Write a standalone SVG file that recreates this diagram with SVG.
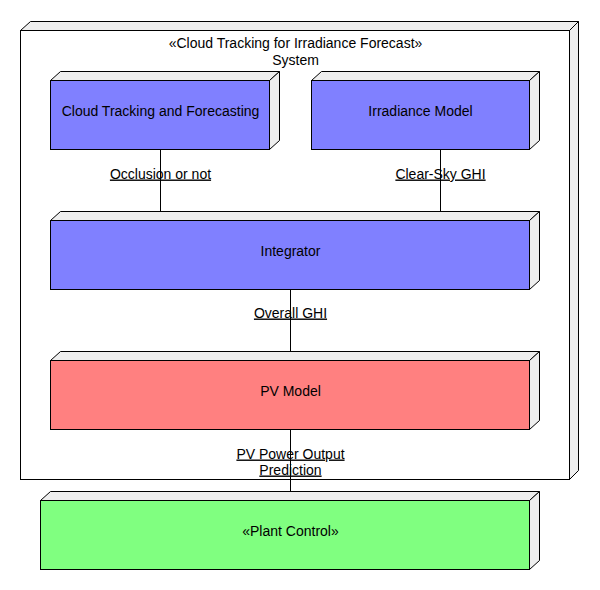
<svg xmlns="http://www.w3.org/2000/svg" width="600" height="590" viewBox="0 0 600 590">
<style>
.front{stroke:#000;stroke-width:1}
.side{fill:#eeeeee;stroke:#000;stroke-width:1;stroke-linejoin:miter}
.blue{fill:#8080ff}
.red{fill:#ff8080}
.green{fill:#80ff80}
.sys{fill:#ffffff}
text{font-family:"Liberation Sans",Arial,sans-serif;font-size:14px;fill:#000;text-anchor:middle}
.lbl{text-decoration:underline}
.conn line{stroke:#000;stroke-width:1}
</style>
<rect x="0" y="0" width="600" height="590" fill="#ffffff"/>
<g transform="translate(0.5,0.5)">
<g id="system">
<polygon class="side" points="20,30 30,21 578,21 569,30"/>
<polygon class="side" points="569,30 578,21 578,470 569,479"/>
<rect class="front sys" x="20" y="30" width="549" height="449"/>
<text x="295" y="47">«Cloud Tracking for Irradiance Forecast»</text>
<text x="295" y="64">System</text>
</g>
<g id="cloud-tracking">
<polygon class="side" points="50,80 60,71 279,71 269,80"/>
<polygon class="side" points="269,80 279,71 279,140 269,149"/>
<rect class="front blue" x="50" y="80" width="219" height="69"/>
<text x="160" y="115">Cloud Tracking and Forecasting</text>
</g>
<g id="irradiance-model">
<polygon class="side" points="311,80 321,71 539,71 529,80"/>
<polygon class="side" points="529,80 539,71 539,140 529,149"/>
<rect class="front blue" x="311" y="80" width="218" height="69"/>
<text x="420" y="115">Irradiance Model</text>
</g>
<g id="integrator">
<polygon class="side" points="50,220 60,211 539,211 529,220"/>
<polygon class="side" points="529,220 539,211 539,280 529,289"/>
<rect class="front blue" x="50" y="220" width="479" height="69"/>
<text x="290" y="255">Integrator</text>
</g>
<g id="pv-model">
<polygon class="side" points="50,360 60,351 539,351 529,360"/>
<polygon class="side" points="529,360 539,351 539,420 529,429"/>
<rect class="front red" x="50" y="360" width="479" height="69"/>
<text x="290" y="395">PV Model</text>
</g>
<g id="plant-control">
<polygon class="side" points="40,500 50,491 539,491 529,500"/>
<polygon class="side" points="529,500 539,491 539,560 529,569"/>
<rect class="front green" x="40" y="500" width="489" height="69"/>
<text x="290" y="535">«Plant Control»</text>
</g>
<g id="connectors" class="conn">
<line x1="160" y1="149" x2="160" y2="211"/>
<line x1="440" y1="149" x2="440" y2="211"/>
<line x1="290" y1="289" x2="290" y2="351"/>
<line x1="290" y1="429" x2="290" y2="491"/>
<text class="lbl" x="160" y="178">Occlusion or not</text>
<text class="lbl" x="440" y="178">Clear-Sky GHI</text>
<text class="lbl" x="290" y="317">Overall GHI</text>
<text class="lbl" x="290" y="458">PV Power Output</text>
<text class="lbl" x="290" y="474">Prediction</text>
</g>
</g>
</svg>
